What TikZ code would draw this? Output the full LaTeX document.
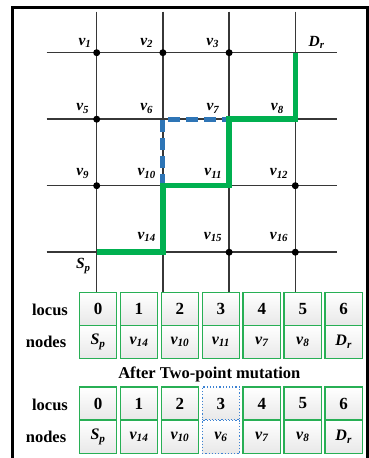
\documentclass[tikz,border=0pt]{standalone}
\usepackage{fontspec}
\setmainfont{Liberation Serif}
\definecolor{pathgreen}{RGB}{0,176,80}
\definecolor{cellgreen}{RGB}{40,175,85}
\definecolor{dashblue}{RGB}{46,117,182}
\definecolor{dotblue}{RGB}{60,130,210}
\definecolor{gridgray}{RGB}{55,55,55}
\newcommand\vv[1]{v\textsubscript{#1}}
\begin{document}
\begin{tikzpicture}[x=1pt,y=-1pt,
  gridline/.style={draw=gridgray, line width=1.5pt},
  vdot/.style={fill=black},
  lbl/.style={font=\fontsize{15.5}{16}\selectfont\bfseries\itshape, inner sep=0pt},
  cell/.style={draw=cellgreen, line width=1.2pt, minimum width=37.5pt, minimum height=33pt, inner sep=0pt, top color=white, bottom color=black!9},
  dcell/.style={draw=dotblue, dotted, line width=1.2pt, minimum width=37.5pt, minimum height=33pt, inner sep=0pt, top color=white, bottom color=black!9},
  numtxt/.style={font=\fontsize{17}{17}\selectfont\bfseries},
  ndtxt/.style={font=\fontsize{16}{16}\selectfont\bfseries\itshape},
  rowlbl/.style={font=\fontsize{16.5}{17}\selectfont\bfseries, inner sep=0pt},
  gpath/.style={draw=pathgreen, line width=5.5pt},
  bpath/.style={draw=dashblue, line width=5pt, dash pattern=on 12pt off 6pt}
]
\useasboundingbox (0,0) rectangle (369,458);
% outer frame
\draw[line width=3pt] (12.5,7.5) rectangle (367,470);

% grid coordinates
\foreach \c/\x in {1/96.7,2/162.9,3/229.1,4/295.3}{
  \foreach \r/\y in {1/52.7,2/119.2,3/185.7,4/252.2}{
    \coordinate (g\r\c) at (\x,\y);
  }
  \coordinate (vt\c) at (\x,11.5);
  \coordinate (vb\c) at (\x,292.3);
}
\foreach \r/\y in {1/52.7,2/119.2,3/185.7,4/252.2}{
  \coordinate (hl\r) at (46.7,\y);
  \coordinate (hr\r) at (337.3,\y);
}
% grid lines
\foreach \r in {1,2,3,4}{ \draw[gridline] (hl\r) -- (hr\r); }
\foreach \c in {1,2,3,4}{ \draw[gridline] (vt\c) -- (vb\c); }

% dots
\foreach \p in {g11,g12,g13,g21,g31,g34,g43,g44}{ \fill[vdot] (\p) circle (3.5pt); }

% paths
\draw[bpath] (g32) -- (g22) -- (g23);
\draw[gpath] (g41) -- (g42) -- (g32) -- (g33) -- (g23) -- (g24) -- (g14);

% labels
\node[lbl] (lv1) at (85,42.7) {\vv{1}};
\node[lbl] (lv2) at (146.7,42.7) {\vv{2}};
\node[lbl] (lv3) at (212.7,42.7) {\vv{3}};
\node[lbl] (lDr) at (316.7,42.7) {D\textsubscript{r}};
\node[lbl] (lv5) at (82.7,108.5) {\vv{5}};
\node[lbl] (lv6) at (146.7,108.5) {\vv{6}};
\node[lbl] (lv7) at (213,108.5) {\vv{7}};
\node[lbl] (lv8) at (277.3,108.5) {\vv{8}};
\node[lbl] (lv9) at (82.7,173.5) {\vv{9}};
\node[lbl] (lv10) at (146.7,173.5) {\vv{10}};
\node[lbl] (lv11) at (213.3,173.5) {\vv{11}};
\node[lbl] (lv12) at (279,173.5) {\vv{12}};
\node[lbl] (lv14) at (146.7,237) {\vv{14}};
\node[lbl] (lv15) at (213,237) {\vv{15}};
\node[lbl] (lv16) at (279,237) {\vv{16}};
\node[lbl] (lSp) at (83.3,266) {S\textsubscript{p}};

% first table
\node[rowlbl] (locA) at (50,310) {locus};
\node[rowlbl] (nodA) at (46,342) {nodes};
\foreach \i/\t in {0/S\textsubscript{p},1/\vv{14},2/\vv{10},3/\vv{11},4/\vv{7},5/\vv{8},6/D\textsubscript{r}}{
  \node[cell, numtxt] (a\i) at ({98+40.95*\i},308.8) {\i};
  \node[cell, ndtxt] (b\i) at ({98+40.95*\i},342) {\t};
}

\node[font=\fontsize{16.5}{17}\selectfont\bfseries, inner sep=0pt] (title) at (209.3,374) {After Two-point mutation};

% second table
\node[rowlbl] (locB) at (50,405) {locus};
\node[rowlbl] (nodB) at (46,437) {nodes};
\foreach \i/\t in {0/S\textsubscript{p},1/\vv{14},2/\vv{10},4/\vv{7},5/\vv{8},6/D\textsubscript{r}}{
  \node[cell, numtxt] (c\i) at ({98+40.95*\i},403.5) {\i};
  \node[cell, ndtxt] (d\i) at ({98+40.95*\i},437) {\t};
}
\node[dcell, numtxt] (c3) at ({98+40.95*3},403.5) {3};
\node[dcell, ndtxt] (d3) at ({98+40.95*3},437) {\vv{6}};
\end{tikzpicture}
\end{document}
